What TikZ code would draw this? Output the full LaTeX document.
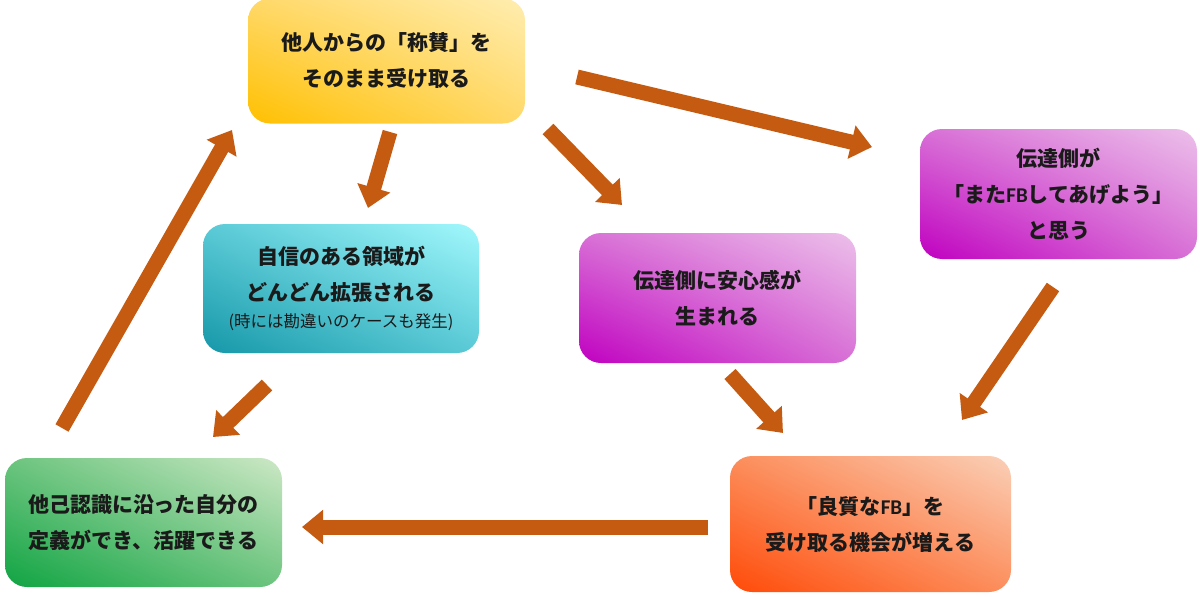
\documentclass[tikz,border=0pt]{standalone}
\usepackage{fontspec}
\newfontfamily\jp{Noto Sans CJK JP}
\newfontfamily\latfb{Carlito}
\usetikzlibrary{arrows.meta,shadings}
\definecolor{arr}{HTML}{C55A11}
\definecolor{txt}{HTML}{1A1A1A}
\definecolor{yelA}{HTML}{FFC000}
\definecolor{yelM}{HTML}{FFD868}
\definecolor{yelB}{HTML}{FFEDB0}
\definecolor{cyaA}{HTML}{1597A8}
\definecolor{cyaM}{HTML}{5ACAD6}
\definecolor{cyaB}{HTML}{A2F8FC}
\definecolor{magA}{HTML}{C000C0}
\definecolor{magM}{HTML}{D870D6}
\definecolor{magB}{HTML}{ECC0EA}
\definecolor{grnA}{HTML}{10A443}
\definecolor{grnM}{HTML}{6CC47E}
\definecolor{grnB}{HTML}{CDE8C6}
\definecolor{orgA}{HTML}{FF4A08}
\definecolor{orgM}{HTML}{FC8E5C}
\definecolor{orgB}{HTML}{FAD0B8}
\newcommand{\fbt}{{\latfb\bfseries FB}}
\tikzset{
  box/.style={rounded corners=22pt, inner sep=0pt, align=center,
    minimum width=277pt, minimum height=130pt, text=txt,
    font=\jp\bfseries\fontsize{21}{36}\selectfont},
  yelbox/.style={box, lower left=yelA, upper right=yelB, upper left=yelM, lower right=yelM},
  cyabox/.style={box, lower left=cyaA, upper right=cyaB, upper left=cyaM, lower right=cyaM},
  magbox/.style={box, lower left=magA, upper right=magB, upper left=magM, lower right=magM},
  grnbox/.style={box, lower left=grnA, upper right=grnB, upper left=grnM, lower right=grnM},
  orgbox/.style={box, lower left=orgA, upper right=orgB, upper left=orgM, lower right=orgM},
  flow/.style={draw=arr, line width=15pt, -{Triangle[width=33pt,length=21pt]}},
}
\begin{document}
\begin{tikzpicture}[x=1pt,y=-1pt]
\useasboundingbox (0,0) rectangle (1200,597);
\fill[white] (0,0) rectangle (1200,597);

\node[yelbox, minimum height=125pt] (praise) at (386.5,61) {他人からの「称賛」を\\そのまま受け取る};
\node[cyabox, minimum width=276pt, minimum height=129pt] (expand) at (341,288.5)
  {自信のある領域が\\どんどん拡張される\\[-9pt]{\mdseries\fontsize{16.5}{18}\selectfont (時には勘違いのケースも発生)}};
\node[magbox] (safe) at (717.5,298) {伝達側に安心感が\\生まれる};
\node[magbox] (again) at (1058.5,194) {伝達側が\\「また\fbt してあげよう」\\と思う};
\node[grnbox, minimum height=129pt] (define) at (143.5,522.5) {他己認識に沿った自分の\\定義ができ、活躍できる};
\node[orgbox, minimum width=281pt, minimum height=136pt] (more) at (870.5,524) {「良質な\fbt 」を\\受け取る機会が増える};

\coordinate (a1s) at (577,77);   \coordinate (a1e) at (872,147);
\coordinate (a2s) at (390,132);  \coordinate (a2e) at (368,208);
\coordinate (a3s) at (548,129);  \coordinate (a3e) at (622,205);
\coordinate (a4s) at (1053,287); \coordinate (a4e) at (962,420);
\coordinate (a5s) at (730,374);  \coordinate (a5e) at (783,433);
\coordinate (a6s) at (708,527);  \coordinate (a6e) at (302,527);
\coordinate (a7s) at (267,385);  \coordinate (a7e) at (213,437);
\coordinate (a8s) at (62,428);   \coordinate (a8e) at (232,130);

\draw[flow] (a1s) -- (a1e);
\draw[flow] (a2s) -- (a2e);
\draw[flow] (a3s) -- (a3e);
\draw[flow] (a4s) -- (a4e);
\draw[flow] (a5s) -- (a5e);
\draw[flow] (a6s) -- (a6e);
\draw[flow] (a7s) -- (a7e);
\draw[flow] (a8s) -- (a8e);
\end{tikzpicture}
\end{document}
